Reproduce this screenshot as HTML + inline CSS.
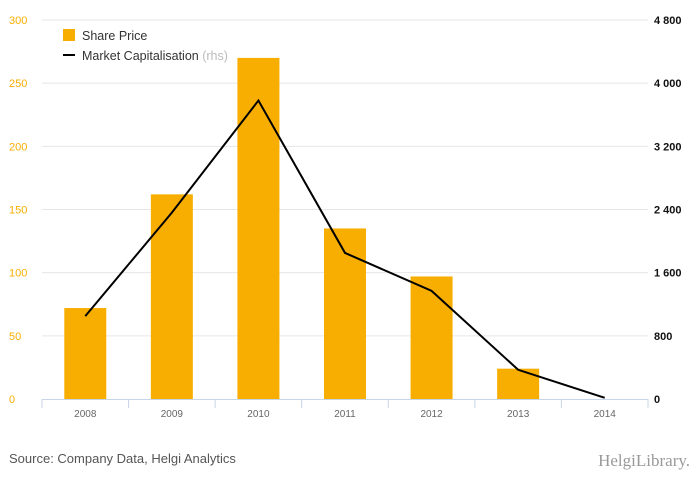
<!DOCTYPE html>
<html><head><meta charset="utf-8"><style>
body{margin:0;background:#fff;width:700px;height:483px;overflow:hidden;font-family:"Liberation Sans",sans-serif}
svg{display:block}
</style></head><body>
<svg id="chart" width="700" height="483">
<g id="grid"></g>
<g id="bars"></g>
<g id="line"></g>
<g id="axes"></g>
<g>
<rect x="63" y="29" width="12" height="12" fill="#f8ae00"/>
<text x="82" y="40" font-size="12.5" fill="#333">Share Price</text>
<line x1="63" y1="55" x2="75" y2="55" stroke="#000" stroke-width="2"/>
<text x="82" y="60" font-size="12.5" fill="#333">Market Capitalisation <tspan fill="#bbb">(rhs)</tspan></text>
</g>
<text x="9" y="463" font-size="13" fill="#555">Source: Company Data, Helgi Analytics</text>
<text x="690" y="466" font-size="17" fill="#999" text-anchor="end" font-family="Liberation Serif,serif">HelgiLibrary.</text>
</svg>
<script>
const categories=["2008","2009","2010","2011","2012","2013","2014"];
const sharePrice=[72,162,270,135,97,24,0];
const marketCap=[1050,2360,3780,1850,1370,370,15];
const leftTicks=[0,50,100,150,200,250,300];
const rightTicks=[0,800,1600,2400,3200,4000,4800];
const rightLabels=["0","800","1 600","2 400","3 200","4 000","4 800"];
const X0=42,X1=648,Y0=399,Y1=20;
const step=(X1-X0)/categories.length;
const xc=i=>X0+step*(i+0.5);
const yl=v=>Y0-(v/300)*(Y0-Y1);
const yr=v=>Y0-(v/4800)*(Y0-Y1);
const NS="http://www.w3.org/2000/svg";
function mk(p,t,a){const e=document.createElementNS(NS,t);for(const k in a)e.setAttribute(k,a[k]);p.appendChild(e);return e;}
const grid=document.getElementById('grid'),axes=document.getElementById('axes'),bars=document.getElementById('bars'),line=document.getElementById('line');
leftTicks.forEach((v,i)=>{
 if(v>0){const g=mk(grid,'line',{x1:X0,x2:X1,y1:yl(v),y2:yl(v),stroke:'#e6e6e6'});
 
 }
 const t=mk(axes,'text',{x:9,y:yl(v)+4,'font-size':11,fill:'#f8ae00'});t.textContent=v;
 
 
});
rightTicks.forEach((v,i)=>{
 const t=mk(axes,'text',{x:654,y:yr(v)+4,'font-size':11,fill:'#111','font-weight':'bold'});t.textContent=rightLabels[i];
 
 
});
const ax=mk(axes,'line',{x1:X0,x2:X1,y1:Y0+0.5,y2:Y0+0.5,stroke:'#c8d4e8'});


for(let i=0;i<=categories.length;i++){
 const t=mk(axes,'line',{x1:X0+step*i,x2:X0+step*i,y1:Y0,y2:Y0+9,stroke:'#c8d4e8'});
 
 
}
categories.forEach((c,i)=>{
 const t=mk(axes,'text',{x:xc(i),y:Y0+18,'font-size':10,fill:'#666','text-anchor':'middle'});t.textContent=c;
 
 
 const b=mk(bars,'rect',{x:xc(i)-21,y:yl(sharePrice[i]),width:42,height:Y0-yl(sharePrice[i]),fill:'#f8ae00'});
 
 
});
const pl=mk(line,'polyline',{points:marketCap.map((v,i)=>xc(i)+','+yr(v)).join(' '),fill:'none',stroke:'#000','stroke-width':2});


</script>
</body></html>
